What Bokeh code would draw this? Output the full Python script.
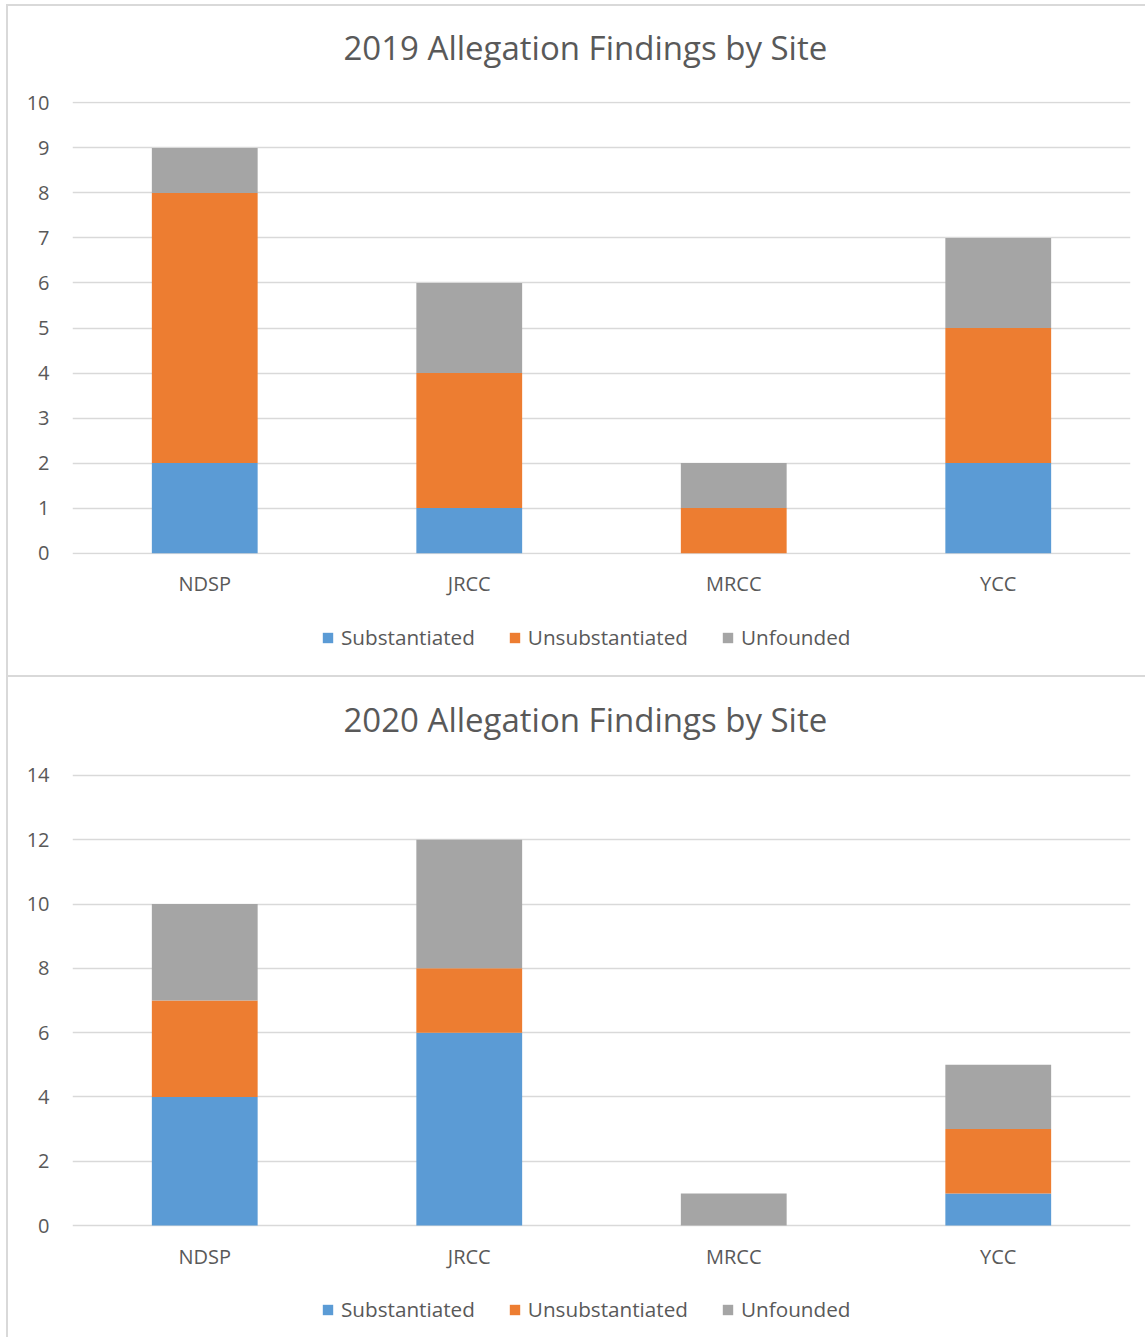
from bokeh.plotting import figure
from bokeh.models import (Range1d, FactorRange, FixedTicker, Legend, LegendItem,
                          Title, ColumnDataSource)
from bokeh.layouts import column
from bokeh.embed import file_html
from bokeh.resources import INLINE

sites = ["NDSP", "JRCC", "MRCC", "YCC"]
findings = ["Substantiated", "Unsubstantiated", "Unfounded"]
colors = ["#5B9BD5", "#ED7D31", "#A5A5A5"]

sub_2019 = [2, 1, 0, 2]
unsub_2019 = [6, 3, 1, 3]
unf_2019 = [1, 2, 1, 2]
ticks_2019 = [0, 1, 2, 3, 4, 5, 6, 7, 8, 9, 10]

sub_2020 = [4, 6, 0, 1]
unsub_2020 = [3, 2, 0, 2]
unf_2020 = [3, 4, 1, 2]
ticks_2020 = [0, 2, 4, 6, 8, 10, 12, 14]

FONT = "Open Sans"
TXT = "#595959"
GRID = "#D9D9D9"
BORDER = "2px solid #d9d9d9"


def source(sub, unsub, unf):
    return ColumnDataSource(data={"site": sites, findings[0]: sub,
                                  findings[1]: unsub, findings[2]: unf})


def make_chart(title, src, ticks, height, top, margin_top):
    pad = (ticks[1] - ticks[0]) * 0.03
    p = figure(width=1139, height=height, x_range=FactorRange(*sites, range_padding=0),
               y_range=Range1d(ticks[0] - pad, ticks[-1] + pad), output_backend="svg",
               toolbar_location=None, min_border_left=64, min_border_right=17,
               min_border_top=top, min_border_bottom=51,
               outline_line_color=None, margin=(margin_top, 0, 0, 6),
               styles={"border-top": BORDER, "border-left": BORDER})
    p.vbar_stack(findings, x="site", width=0.4, source=src, color=colors,
                 line_color=None)
    # spacer between the frame and the title
    p.add_layout(Title(text=" ", standoff=16, text_font=FONT,
                       text_font_size="10px"), "above")
    p.add_layout(Title(text=title, align="left", offset=271, standoff=0,
                       text_font=FONT, text_font_size="33px",
                       text_font_style="normal", text_color=TXT), "above")
    p.yaxis.ticker = FixedTicker(ticks=ticks)
    p.yaxis.axis_line_color = None
    p.yaxis.major_tick_line_color = None
    p.yaxis.minor_tick_line_color = None
    p.yaxis.major_label_standoff = 17
    p.xaxis.axis_line_color = None
    p.xaxis.major_tick_line_color = None
    p.xaxis.major_label_standoff = 9
    for ax in (p.xaxis, p.yaxis):
        ax.major_label_text_font = FONT
        ax.major_label_text_font_size = "20px"
        ax.major_label_text_color = TXT
    p.xgrid.grid_line_color = None
    p.ygrid.grid_line_color = GRID
    p.ygrid.grid_line_width = 1.5
    return p


def make_legend(src, height, y):
    # legend strip: its bars lie outside the visible range, only the key shows
    p = figure(width=1139, height=height, x_range=FactorRange(*sites),
               y_range=Range1d(-2, -1), output_backend="svg",
               toolbar_location=None, min_border=0,
               outline_line_color=None, margin=(0, 0, 0, 6),
               styles={"border-left": BORDER})
    p.axis.visible = False
    p.grid.visible = False
    rs = p.vbar_stack(findings, x="site", width=0, source=src, color=colors,
                      line_color=None)
    items = [LegendItem(label=f, renderers=[r]) for f, r in zip(findings, rs)]
    leg = Legend(items=items, orientation="horizontal", location=(249, y),
                 glyph_width=13, glyph_height=13, label_standoff=7, spacing=33,
                 padding=0, margin=0, border_line_color=None,
                 background_fill_alpha=0, label_text_font=FONT,
                 label_text_font_size="20.7px", label_text_color=TXT)
    p.add_layout(leg, "center")
    return p


src1 = source(sub_2019, unsub_2019, unf_2019)
src2 = source(sub_2020, unsub_2020, unf_2020)
p1 = make_chart("2019 Allegation Findings by Site", src1, ticks_2019, 599, 95, 4)
l1 = make_legend(src1, 72, 24)
p2 = make_chart("2020 Allegation Findings by Site", src2, ticks_2020, 601, 96, 0)
l2 = make_legend(src2, 61, 14)
p = column(p1, l1, p2, l2, spacing=0)
open("out.html", "w").write(file_html(p, INLINE))
